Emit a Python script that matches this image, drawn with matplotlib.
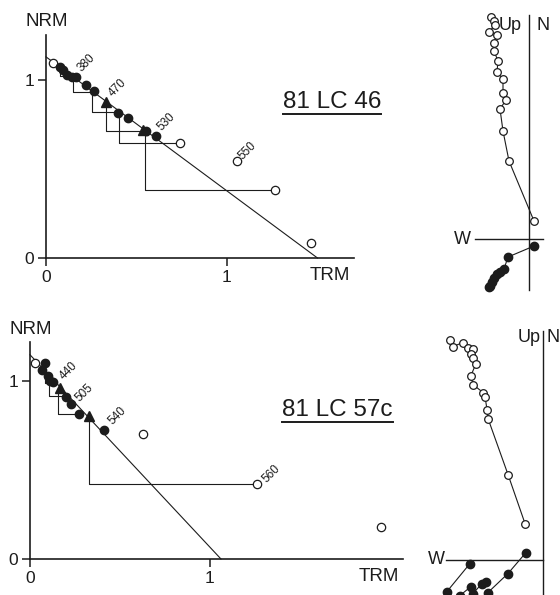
import numpy as np
import matplotlib
matplotlib.use("Agg")
import matplotlib.pyplot as plt
from matplotlib.lines import Line2D

plt.rcParams["font.family"] = ["Liberation Sans", "DejaVu Sans"]

INK = "#1c1c1c"
W, H = 560, 595

# ---- Arai plot, sample 81 LC 46 ----
a46_fill_x = [0.077, 0.096, 0.114, 0.142, 0.166, 0.221, 0.265, 0.400, 0.451, 0.552, 0.608]
a46_fill_y = [1.075, 1.056, 1.028, 1.019, 1.019, 0.970, 0.938, 0.816, 0.785, 0.713, 0.685]
a46_tri_x = [0.331, 0.538]
a46_tri_y = [0.878, 0.719]
a46_open_x = [0.040, 0.740, 1.057, 1.265, 1.464]
a46_open_y = [1.096, 0.644, 0.545, 0.382, 0.083]
# pTRM check steps: x start, y start, y end, x end
a46_steps = [(0.077, 1.075, 1.020, 0.140),
             (0.148, 1.000, 0.934, 0.252),
             (0.256, 0.933, 0.822, 0.400),
             (0.331, 0.878, 0.713, 0.519),
             (0.403, 0.820, 0.644, 0.740),
             (0.547, 0.713, 0.382, 1.265)]
a46_fit = (1.13, 1.50)   # NRM intercept, TRM intercept
a46_temps = [("380", 0.166, 1.019, 10, 14), ("470", 0.331, 0.878, 12, 14),
             ("530", 0.608, 0.685, 10, 14), ("550", 1.057, 0.545, 10, 10)]

# ---- Arai plot, sample 81 LC 57c ----
a57_fill_x = [0.083, 0.065, 0.102, 0.111, 0.130, 0.198, 0.228, 0.270, 0.413]
a57_fill_y = [1.104, 1.066, 1.028, 1.000, 0.994, 0.912, 0.873, 0.818, 0.728]
a57_tri_x = [0.167, 0.330]
a57_tri_y = [0.962, 0.803]
a57_open_x = [0.028, 0.626, 1.259, 1.950]
a57_open_y = [1.104, 0.705, 0.420, 0.180]
a57_steps = [(0.083, 1.104, 0.990, 0.120),
             (0.107, 1.030, 0.916, 0.190),
             (0.157, 0.957, 0.818, 0.265),
             (0.330, 0.803, 0.420, 1.259)]
a57_fit = (1.150, 1.061)
a57_temps = [("440", 0.167, 0.962, 9, 17), ("505", 0.228, 0.873, 13, 11),
             ("540", 0.413, 0.728, 13, 14), ("560", 1.259, 0.420, 15, 11)]

# ---- Zijderveld diagrams (open = vertical plane, filled = horizontal plane) ----
z46_open_x = [-0.38, -0.35, -0.34, -0.40, -0.32, -0.35, -0.35, -0.31, -0.32, -0.26,
              -0.26, -0.23, -0.29, -0.26, -0.20, 0.05]
z46_open_y = [2.22, 2.18, 2.14, 2.07, 2.04, 1.96, 1.88, 1.78, 1.67, 1.60,
              1.46, 1.39, 1.30, 1.08, 0.78, 0.18]
z46_fill_x = [-0.40, -0.39, -0.37, -0.35, -0.32, -0.29, -0.25, -0.21, 0.05]
z46_fill_y = [-0.48, -0.47, -0.43, -0.39, -0.35, -0.33, -0.30, -0.18, -0.07]

z57_open_x = [-0.93, -0.90, -0.80, -0.75, -0.70, -0.72, -0.70, -0.67, -0.72, -0.70,
              -0.60, -0.58, -0.56, -0.55, -0.35, -0.18]
z57_open_y = [2.20, 2.13, 2.17, 2.12, 2.11, 2.06, 2.02, 1.96, 1.84, 1.75,
              1.67, 1.63, 1.50, 1.41, 0.85, 0.36]
z57_fill_x = [-1.10, -0.96, -0.73, np.nan, -0.83, -0.72, -0.70, -0.61, -0.57, np.nan,
              -0.66, -0.55, -0.35, -0.17]
z57_fill_y = [-0.50, -0.32, -0.04, np.nan, -0.36, -0.27, -0.34, -0.24, -0.22, np.nan,
              -0.50, -0.33, -0.14, 0.07]


def place(fig, box, origin, scale):
    # box and origin in pixels from the top-left corner
    x0, y0, x1, y1 = box
    ox, oy = origin
    sx, sy = scale
    ax = fig.add_axes([x0 / W, 1 - y1 / H, (x1 - x0) / W, (y1 - y0) / H])
    ax.set_xlim((x0 - ox) / sx, (x1 - ox) / sx)
    ax.set_ylim((oy - y1) / sy, (oy - y0) / sy)
    ax.patch.set_alpha(0)
    return ax


def arai(ax, fx, fy, tx, ty, ox, oy, steps, fit, temps, xmax, ymax):
    for s in ["top", "right"]:
        ax.spines[s].set_visible(False)
    for s in ["left", "bottom"]:
        ax.spines[s].set_position(("data", 0))
        ax.spines[s].set_linewidth(1.2)
        ax.spines[s].set_color(INK)
    ax.spines["left"].set_bounds(0, ymax)
    ax.spines["bottom"].set_bounds(0, xmax)
    ax.set_xticks([0, 1])
    ax.set_yticks([0, 1])
    ax.set_xticklabels(["0", "1"])
    ax.set_yticklabels(["0", "1"])
    ax.tick_params(direction="out", length=5.5, width=1.1, color=INK,
                   labelsize=12.5, labelcolor=INK, pad=3)

    ax.plot([0, fit[1]], [fit[0], 0], color=INK, lw=0.8, zorder=2)
    for x0, y0, y1, x1 in steps:
        ax.plot([x0, x0, x1], [y0, y1, y1], color=INK, lw=0.8, zorder=2)

    ax.plot(ox, oy, "o", ms=6, mfc="white", mec=INK, mew=0.9, ls="none", zorder=3)
    ax.plot(fx, fy, "o", ms=6, color=INK, ls="none", zorder=4)
    ax.plot(tx, ty, "^", ms=7, color=INK, ls="none", zorder=4)

    for lab, x, y, dx, dy in temps:
        ax.annotate(lab, (x, y), xytext=(dx, dy), textcoords="offset pixels",
                    rotation=45, ha="center", va="center", fontsize=8.5, color=INK)


def zijder(ax, ox, oy, fx, fy, vbounds, hbounds):
    for s in ["top", "right"]:
        ax.spines[s].set_visible(False)
    for s in ["left", "bottom"]:
        ax.spines[s].set_position(("data", 0))
        ax.spines[s].set_linewidth(1.0)
        ax.spines[s].set_color(INK)
    ax.spines["left"].set_bounds(*vbounds)
    ax.spines["bottom"].set_bounds(*hbounds)
    ax.set_xticks([])
    ax.set_yticks([])
    ax.plot(ox, oy, "-", color=INK, lw=0.8, zorder=2)
    ax.plot(ox, oy, "o", ms=5.5, mfc="white", mec=INK, mew=0.9, ls="none", zorder=3)
    ax.plot(fx, fy, "-", color=INK, lw=0.8, zorder=2)
    ax.plot(fx, fy, "o", ms=6, color=INK, ls="none", zorder=3)


fig = plt.figure(figsize=(W / 100, H / 100), dpi=100)
fig.patch.set_facecolor("white")

ax1 = place(fig, (0, 30, 425, 300), (46, 258), (181, 178))
arai(ax1, a46_fill_x, a46_fill_y, a46_tri_x, a46_tri_y, a46_open_x, a46_open_y,
     a46_steps, a46_fit, a46_temps, 1.70, 1.25)

ax2 = place(fig, (0, 335, 425, 595), (30, 559), (180, 177.6))
arai(ax2, a57_fill_x, a57_fill_y, a57_tri_x, a57_tri_y, a57_open_x, a57_open_y,
     a57_steps, a57_fit, a57_temps, 2.07, 1.22)

ax3 = place(fig, (430, 0, 560, 300), (529, 239), (100, 100))
zijder(ax3, z46_open_x, z46_open_y, z46_fill_x, z46_fill_y, (-0.51, 2.24), (-0.54, 0.14))

ax4 = place(fig, (420, 310, 560, 595), (543, 559.5), (100, 100))
zijder(ax4, z57_open_x, z57_open_y, z57_fill_x, z57_fill_y, (-0.5, 2.29), (-0.97, 0))


def ftext(px, py, s, **kw):
    kw.setdefault("fontsize", 13.5)
    kw.setdefault("color", INK)
    return fig.text(px / W, 1 - py / H, s, **kw)


ftext(47, 21.5, "NRM", ha="center", va="center")
ftext(330, 276, "TRM", ha="center", va="center")
ftext(31, 329.5, "NRM", ha="center", va="center")
ftext(379, 576.5, "TRM", ha="center", va="center")

ftext(462, 239, "W", ha="center", va="center", fontsize=13)
ftext(522, 25, "Up", ha="right", va="center", fontsize=13)
ftext(536, 25, "N", ha="left", va="center", fontsize=13)
ftext(436, 559, "W", ha="center", va="center", fontsize=13)
ftext(541, 338, "Up", ha="right", va="center", fontsize=13)
ftext(547, 338, "N", ha="left", va="center", fontsize=13)

titles = [ftext(332, 108, "81 LC 46", ha="center", va="baseline", fontsize=17.5),
          ftext(337.5, 416.5, "81 LC 57c", ha="center", va="baseline", fontsize=17.5)]

# underline the sample names a little below the baseline
for t in titles:
    bb = t.get_window_extent(renderer=fig.canvas.get_renderer())
    bb = bb.transformed(fig.transFigure.inverted())
    yl = t.get_position()[1] - 5.5 / H
    fig.add_artist(Line2D([bb.x0, bb.x1], [yl, yl], transform=fig.transFigure,
                          color=INK, lw=1.4))

fig.savefig("out.png", dpi=100, facecolor="white")
